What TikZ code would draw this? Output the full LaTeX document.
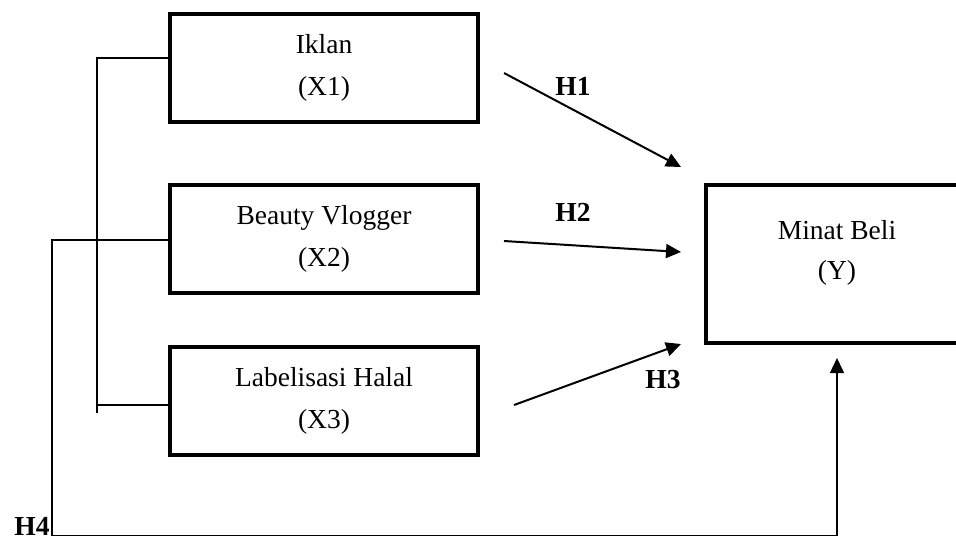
\documentclass[tikz,border=0pt]{standalone}
\usepackage{fontspec}
\setmainfont{Liberation Serif}
\usetikzlibrary{arrows.meta,calc}
\tikzset{
  var/.style={draw, line width=2pt, minimum width=154pt, minimum height=54pt, align=center, font=\fontsize{13.75}{21}\selectfont},
  hyp/.style={font=\fontsize{13.75}{16}\selectfont\bfseries},
  link/.style={line width=0.75pt},
  arr/.style={line width=1pt, -{Triangle[length=7.5pt,width=7pt]}}
}
\begin{document}
\begin{tikzpicture}[x=0.5pt,y=-0.5pt]
    \clip(0,0)rectangle(956,538);
    \node[var](x1)at(324,68){Iklan\\(X1)};
    \node[var](x2)at(324,238.5){Beauty Vlogger\\(X2)};
    \node[var](x3)at(324,401){Labelisasi Halal\\(X3)};
    \node[var, minimum width=132pt, minimum height=79pt](y)at(838,264){};
    \node[align=center, font=\fontsize{13.75}{20}\selectfont](ytext)at(837,253){Minat Beli\\(Y)};
    \draw[arr]($(x1.east)+(24,5)$)--($(y.west)+(-23,-97)$);
    \draw[arr]($(x2.east)+(24,2.5)$)--($(y.west)+(-23,-12)$);
    \draw[arr]($(x3.east)+(34,4)$)--($(y.west)+(-23,80)$);
    \node[hyp](h1)at(573,86){H1};
    \node[hyp](h2)at(573,212){H2};
    \node[hyp](h3)at(663,380){H3};
    \draw[link]($(x1.west)+(0,-10)$)-|($(x3.west)+(-71,12)$);
    \draw[link]($(x3.west)+(0,4)$)--($(x3.west)+(-71,4)$);
    \coordinate(h4turn)at(52,535.5);
    \draw[link,-{Triangle[length=7.5pt,width=7pt]}]($(x2.west)+(0,1.5)$)-|(h4turn)-|($(y.south)+(-1,13)$);
    \node[hyp, anchor=base](h4)at(32,535){H4};
\end{tikzpicture}
\end{document}
